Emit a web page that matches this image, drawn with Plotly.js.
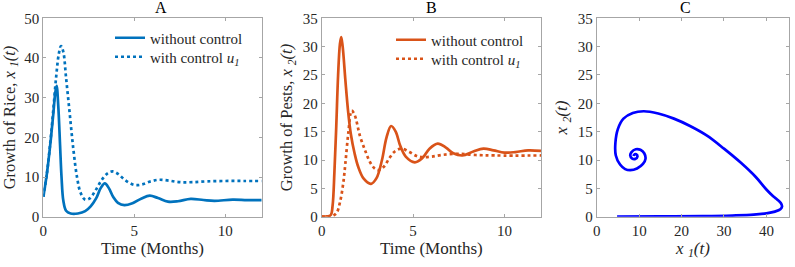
<!DOCTYPE html>
<html>
<head>
<meta charset="utf-8">
<script src="https://cdn.plot.ly/plotly-3.0.1.min.js"></script>
<style>html,body{margin:0;padding:0;background:#fff;}#chart{width:795px;height:267px;}</style>
</head>
<body>
<div id="chart"></div>
<script>
// Panel A: growth of rice x1(t)
var tA_no   = [0, 0.2, 0.4, 0.55, 0.65, 0.73, 0.82, 0.92, 1.0, 1.1, 1.25, 1.5, 1.9, 2.3, 2.6, 2.9, 3.15, 3.38, 3.6, 3.85, 4.1, 4.45, 4.9, 5.4, 5.85, 6.3, 6.85, 7.4, 8.1, 8.8, 9.4, 10.4, 11.2, 12];
var x1_no   = [5.0, 11, 19, 26, 31, 33, 28, 18, 10, 4, 1.5, 0.8, 0.8, 1.4, 2.6, 4.6, 7.2, 8.4, 7.2, 4.9, 3.5, 2.9, 3.4, 4.6, 5.3, 4.7, 3.8, 3.9, 4.5, 4.2, 4.0, 4.3, 4.2, 4.2];
var tA_u    = [0, 0.2, 0.4, 0.55, 0.7, 0.85, 0.97, 1.1, 1.25, 1.45, 1.65, 1.85, 2.05, 2.3, 2.55, 2.85, 3.2, 3.55, 3.8, 4.1, 4.5, 5.0, 5.4, 5.9, 6.35, 6.9, 7.5, 8.2, 9.0, 10.0, 11.0, 12];
var x1_u    = [5.0, 11, 19.5, 27, 35, 41, 43, 41.5, 35, 26, 17, 10, 6, 4.3, 4.6, 6.5, 9.2, 11.0, 11.4, 10.8, 9.2, 8.0, 8.1, 8.9, 9.3, 9.1, 8.7, 8.7, 8.9, 9.0, 9.0, 9.0];
// Panel B: growth of pests x2(t)
var tB_no   = [0, 0.3, 0.5, 0.6, 0.7, 0.8, 0.9, 1.0, 1.07, 1.15, 1.3, 1.45, 1.6, 1.8, 2.0, 2.3, 2.7, 3.0, 3.3, 3.55, 3.8, 4.05, 4.3, 4.6, 5.1, 5.5, 5.9, 6.35, 6.8, 7.2, 7.7, 8.3, 8.85, 9.4, 10.0, 10.6, 11.3, 12];
var x2_no   = [0, 0.05, 0.3, 2, 8, 16, 25, 30.5, 31.7, 30, 24, 18.5, 14.5, 11.2, 8.8, 6.7, 5.8, 6.8, 10, 14, 16, 15, 12.5, 10.6, 9.6, 10.3, 12, 12.9, 12.2, 11.2, 10.8, 11.5, 12.0, 11.7, 11.3, 11.4, 11.7, 11.6];
var tB_u    = [0, 0.5, 0.8, 1.0, 1.18, 1.3, 1.46, 1.64, 1.8, 2.1, 2.4, 2.65, 2.9, 3.1, 3.4, 3.7, 4.0, 4.38, 4.8, 5.2, 5.5, 6.0, 6.6, 7.4, 8.3, 9.5, 12];
var x2_u    = [0, 0.05, 0.6, 2.5, 5.9, 9.5, 14.8, 18.7, 18, 14.2, 11.5, 9.6, 8.5, 8.2, 8.8, 10.3, 11.5, 12.0, 11.4, 10.7, 10.5, 10.6, 10.9, 11.1, 10.9, 10.8, 10.8];
// Panel C: phase portrait x1 vs x2
var phaseX1 = [4.8, 15, 25, 32, 37, 40, 42, 43.3, 43.7, 43.4, 42.6, 41.6, 40.0, 37.5, 34, 30, 26, 22, 18.2, 14.5, 11.1, 8.5, 6.3, 5.0, 4.4, 4.5, 5.5, 6.7, 7.9, 9.5, 10.9, 11.5, 11.2, 10.3, 9.2, 8.2, 7.9, 8.3, 9.1, 9.6, 9.3, 8.8, 8.7];
var phaseX2 = [0, 0.05, 0.1, 0.2, 0.35, 0.6, 0.9, 1.3, 1.8, 2.4, 3.0, 3.6, 4.8, 7.0, 9.5, 12.0, 14.3, 16.0, 17.3, 18.2, 18.6, 18.3, 17.3, 15.5, 13.0, 10.8, 9.2, 8.4, 8.2, 8.5, 9.3, 10.2, 11.2, 11.8, 11.9, 11.4, 10.8, 10.3, 10.2, 10.6, 11.0, 10.9, 10.7];
var titles = ['A', 'B', 'C'];
var legendNames = ['without control', 'with control <i>u</i><sub><i>1</i></sub>'];

var blueA = '#0072BD', orangeB = '#D95319', blueC = '#0000FF';
var fontFam = 'Liberation Serif, Times New Roman, serif';
var txt = '#262626';

var traces = [
  {x: tA_no, y: x1_no, xaxis: 'x', yaxis: 'y', mode: 'lines', line: {color: blueA, width: 2.7, shape: 'spline'}, name: legendNames[0], legend: 'legend'},
  {x: tA_u, y: x1_u, xaxis: 'x', yaxis: 'y', mode: 'lines', line: {color: blueA, width: 2.7, dash: 'dot', shape: 'spline'}, name: legendNames[1], legend: 'legend2'},
  {x: tB_no, y: x2_no, xaxis: 'x2', yaxis: 'y2', mode: 'lines', line: {color: orangeB, width: 2.7, shape: 'spline'}, name: legendNames[0], legend: 'legend3'},
  {x: tB_u, y: x2_u, xaxis: 'x2', yaxis: 'y2', mode: 'lines', line: {color: orangeB, width: 2.7, dash: 'dot', shape: 'spline'}, name: legendNames[1], legend: 'legend4'},
  {x: phaseX1, y: phaseX2, xaxis: 'x3', yaxis: 'y3', mode: 'lines', line: {color: blueC, width: 2.7, shape: 'spline'}, showlegend: false}
];

function ax(domain, range, dtick, anchor, titleText, standoff, tsize) {
  return {
    domain: domain, range: range, dtick: dtick, tick0: 0, anchor: anchor,
    showgrid: false, zeroline: false, showline: true, mirror: 'ticks',
    linecolor: '#a6a6a6', linewidth: 1, ticks: 'inside', ticklen: 3, tickcolor: '#a6a6a6',
    tickfont: {family: fontFam, size: 15, color: txt},
    title: {text: titleText, font: {family: fontFam, size: tsize, color: txt}, standoff: standoff},
    automargin: false, fixedrange: true
  };
}

function leg(xPix, yPix) {
  return {x: xPix / 795, y: 1 - yPix / 267, xanchor: 'left', yanchor: 'middle', bgcolor: 'rgba(0,0,0,0)',
          borderwidth: 0, font: {family: fontFam, size: 15, color: txt}, tracegroupgap: 0};
}

var yDom = [0.1884, 0.9315];
var layout = {
  width: 795, height: 267,
  margin: {l: 0, r: 0, t: 0, b: 0},
  paper_bgcolor: '#fff', plot_bgcolor: '#fff',
  font: {family: fontFam, color: txt},
  xaxis: ax([0.0545, 0.3292], [0, 12], 5, 'y', 'Time (Months)', 3, 17),
  yaxis: ax(yDom, [0, 50], 10, 'x', 'Growth of Rice, <i>x</i> <sub><i>1</i></sub><i>(t)</i>', 5, 16.5),
  xaxis2: ax([0.4046, 0.6805], [0, 12], 5, 'y2', 'Time (Months)', 3, 17),
  yaxis2: ax(yDom, [0, 35], 5, 'x2', 'Growth of Pests, <i>x</i> <sub><i>2</i></sub><i>(t)</i>', 5, 16.5),
  xaxis3: ax([0.7506, 0.9928], [0, 45.4], 10, 'y3', '<i>x</i> <sub><i>1</i></sub><i>(t)</i>', 3, 17),
  yaxis3: ax(yDom, [0, 35], 5, 'x3', '<i>x</i> <sub><i>2</i></sub><i>(t)</i>', 5, 17),
  legend: leg(110, 38),
  legend2: leg(110, 57),
  legend3: leg(391, 40),
  legend4: leg(391, 59),
  annotations: [
    {text: titles[0], xref: 'paper', yref: 'paper', x: (0.0545 + 0.3292) / 2, y: 0.9315, yanchor: 'bottom', showarrow: false, font: {family: fontFam, size: 16, color: '#000'}},
    {text: titles[1], xref: 'paper', yref: 'paper', x: (0.4046 + 0.6805) / 2, y: 0.9315, yanchor: 'bottom', showarrow: false, font: {family: fontFam, size: 16, color: '#000'}},
    {text: titles[2], xref: 'paper', yref: 'paper', x: (0.7506 + 0.9928) / 2, y: 0.9315, yanchor: 'bottom', showarrow: false, font: {family: fontFam, size: 16, color: '#000'}}
  ]
};

Plotly.newPlot('chart', traces, layout, {staticPlot: true, displayModeBar: false});
</script>
</body>
</html>
